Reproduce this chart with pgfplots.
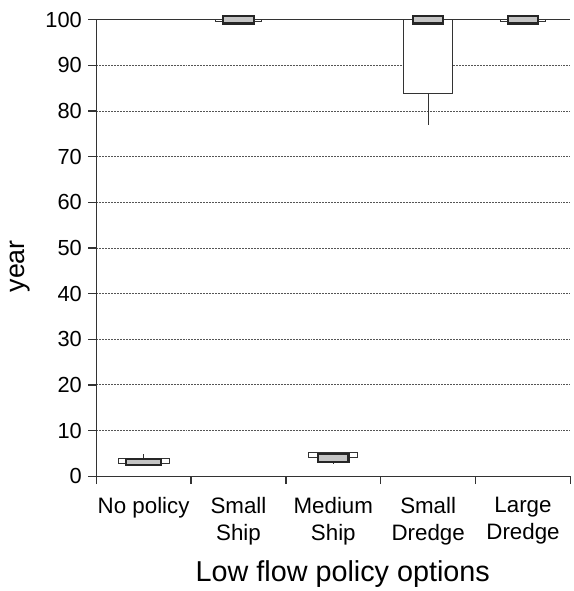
\documentclass[border=0pt]{standalone}
\usepackage{fontspec}
\setmainfont{Liberation Sans}
\usepackage{pgfplots}
\pgfplotsset{compat=1.18}
\usepgfplotslibrary{statistics}

\definecolor{lin}{HTML}{333333}
\definecolor{grd}{HTML}{555555}
\definecolor{inner}{HTML}{C4C4C4}

\pgfplotsset{
  boxplot/draw direction=y,
  outerbox/.style={draw=lin, fill=white, line width=1pt, solid, mark=none},
  innerbox/.style={draw=black!85, fill=inner, line width=2.2pt, solid, mark=none},
}

\begin{document}
\begin{tikzpicture}
\begin{axis}[
  scale only axis,
  width=478pt, height=460pt,
  xmin=0, xmax=5, ymin=0, ymax=100,
  clip=false,
  axis lines*=left,
  axis line style={lin, line width=1.3pt},
  ytick={0,10,...,90},
  extra y ticks={100},
  extra y tick style={grid=major, grid style={solid, lin, line width=1.3pt}},
  ymajorgrids,
  grid style={grd, line width=0.9pt, dash pattern=on 2pt off 1pt},
  xtick={0,1,...,5},
  xticklabels={},
  extra x ticks={0.5,1.5,2.5,3.5,4.5},
  extra x tick labels={No policy, Small\\Ship, Medium\\Ship, Small\\Dredge, Large\\Dredge},
  extra x tick style={major tick length=0pt, grid=none,
     xticklabel style={align=center, font=\fontsize{22.5}{27}\selectfont, yshift=-18pt}},
  tick align=outside,
  major tick length=8pt,
  tick style={lin, line width=1.3pt},
  /pgf/number format/assume math mode=true,
  yticklabel style={font=\fontsize{22}{26}\selectfont, xshift=-3pt},
  xlabel={Low flow policy options},
  ylabel={year},
  xlabel style={font=\fontsize{29}{34}\selectfont, at={(axis description cs:0.52,-0.215)}, anchor=center},
  ylabel style={font=\fontsize{27}{32}\selectfont, at={(axis description cs:-0.161,0.46)}, anchor=center},
]
% No policy
\addplot+[outerbox, boxplot prepared={draw position=0.5, lower whisker=2.8, lower quartile=2.8, median=2.8, upper quartile=3.9, upper whisker=4.8, box extend=0.54, whisker extend=0}] coordinates {};
\addplot+[innerbox, boxplot prepared={draw position=0.5, lower whisker=2.5, lower quartile=2.5, median=2.5, upper quartile=3.8, upper whisker=3.8, box extend=0.37, whisker extend=0}] coordinates {};
% Small Ship
\addplot+[outerbox, boxplot prepared={draw position=1.5, lower whisker=99.6, lower quartile=99.6, median=99.6, upper quartile=100.1, upper whisker=100.1, box extend=0.48, whisker extend=0}] coordinates {};
\addplot+[innerbox, boxplot prepared={draw position=1.5, lower whisker=99.2, lower quartile=99.2, median=99.2, upper quartile=100.8, upper whisker=100.8, box extend=0.32, whisker extend=0}] coordinates {};
% Medium Ship
\addplot+[outerbox, boxplot prepared={draw position=2.5, lower whisker=2.6, lower quartile=4.0, median=4.0, upper quartile=5.1, upper whisker=5.1, box extend=0.52, whisker extend=0}] coordinates {};
\addplot+[innerbox, boxplot prepared={draw position=2.5, lower whisker=3.1, lower quartile=3.1, median=3.1, upper quartile=4.85, upper whisker=4.85, box extend=0.32, whisker extend=0}] coordinates {};
% Small Dredge
\addplot+[outerbox, boxplot prepared={draw position=3.5, lower whisker=77, lower quartile=83.9, median=83.9, upper quartile=100, upper whisker=100, box extend=0.51, whisker extend=0}] coordinates {};
\addplot+[innerbox, boxplot prepared={draw position=3.5, lower whisker=99.2, lower quartile=99.2, median=99.2, upper quartile=100.8, upper whisker=100.8, box extend=0.32, whisker extend=0}] coordinates {};
% Large Dredge
\addplot+[outerbox, boxplot prepared={draw position=4.5, lower whisker=99.6, lower quartile=99.6, median=99.6, upper quartile=100.1, upper whisker=100.1, box extend=0.48, whisker extend=0}] coordinates {};
\addplot+[innerbox, boxplot prepared={draw position=4.5, lower whisker=99.2, lower quartile=99.2, median=99.2, upper quartile=100.8, upper whisker=100.8, box extend=0.32, whisker extend=0}] coordinates {};
\end{axis}
% fix the page to the reference's margins
\path[use as bounding box] (current axis.south west) ++(-97pt,-111pt) rectangle ([yshift=20pt]current axis.north east);
\end{tikzpicture}
\end{document}
